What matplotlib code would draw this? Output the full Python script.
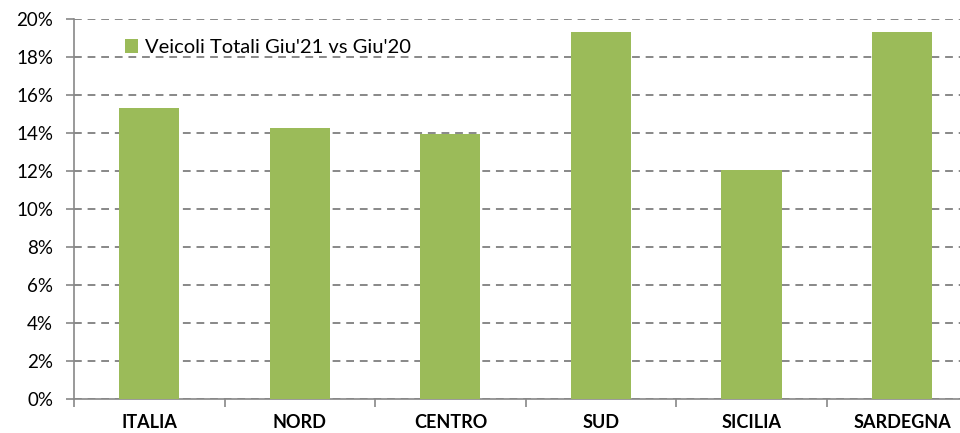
import matplotlib
matplotlib.use("Agg")
import matplotlib.pyplot as plt
import numpy as np
from matplotlib.ticker import FixedLocator, FuncFormatter

categories = ["ITALIA", "NORD", "CENTRO", "SUD", "SICILIA", "SARDEGNA"]
values = [15.32, 14.26, 13.96, 19.32, 12.07, 19.30]
series_label = "Veicoli Totali Giu'21 vs Giu'20"

plt.rcParams['font.family'] = ['Lato', 'DejaVu Sans']

fig = plt.figure(figsize=(9.6, 4.33), dpi=100)
ax = fig.add_axes([0.0771, 0.0785, 0.9409, 0.8775])

x = np.arange(len(categories))
ax.bar(x, values, width=0.4, color="#9bbb59", label=series_label, zorder=3)

ax.set_xlim(-0.5, len(categories) - 0.5)
ax.set_ylim(0, 20)
ax.set_yticks(np.arange(0, 21, 2))
ax.yaxis.set_major_formatter(FuncFormatter(lambda v, p: f"{v:.0f}%"))
ax.yaxis.grid(True, linestyle=(0, (4, 3)), color="#888888", linewidth=1.4, zorder=0)
ax.set_axisbelow(True)

ax.set_xticks(x)
ax.set_xticklabels(categories, fontweight="bold", fontsize=13)
ax.xaxis.set_minor_locator(FixedLocator(np.arange(-0.5, len(categories), 1)))
ax.tick_params(axis="x", which="major", length=0, pad=11)
ax.tick_params(axis="x", which="minor", length=6, color="#888888", width=1.2)
ax.tick_params(axis="y", length=6, color="#888888", width=1.2, labelsize=13.5, pad=9)

for s in ["top", "right"]:
    ax.spines[s].set_visible(False)
for s in ["left", "bottom"]:
    ax.spines[s].set_color("#888888")
    ax.spines[s].set_linewidth(1.2)

ax.legend(loc="upper left", bbox_to_anchor=(0.036, 0.995), frameon=False,
          fontsize=14.5, handlelength=0.65, handleheight=0.65, handletextpad=0.35)

fig.savefig("out.png", dpi=100)
